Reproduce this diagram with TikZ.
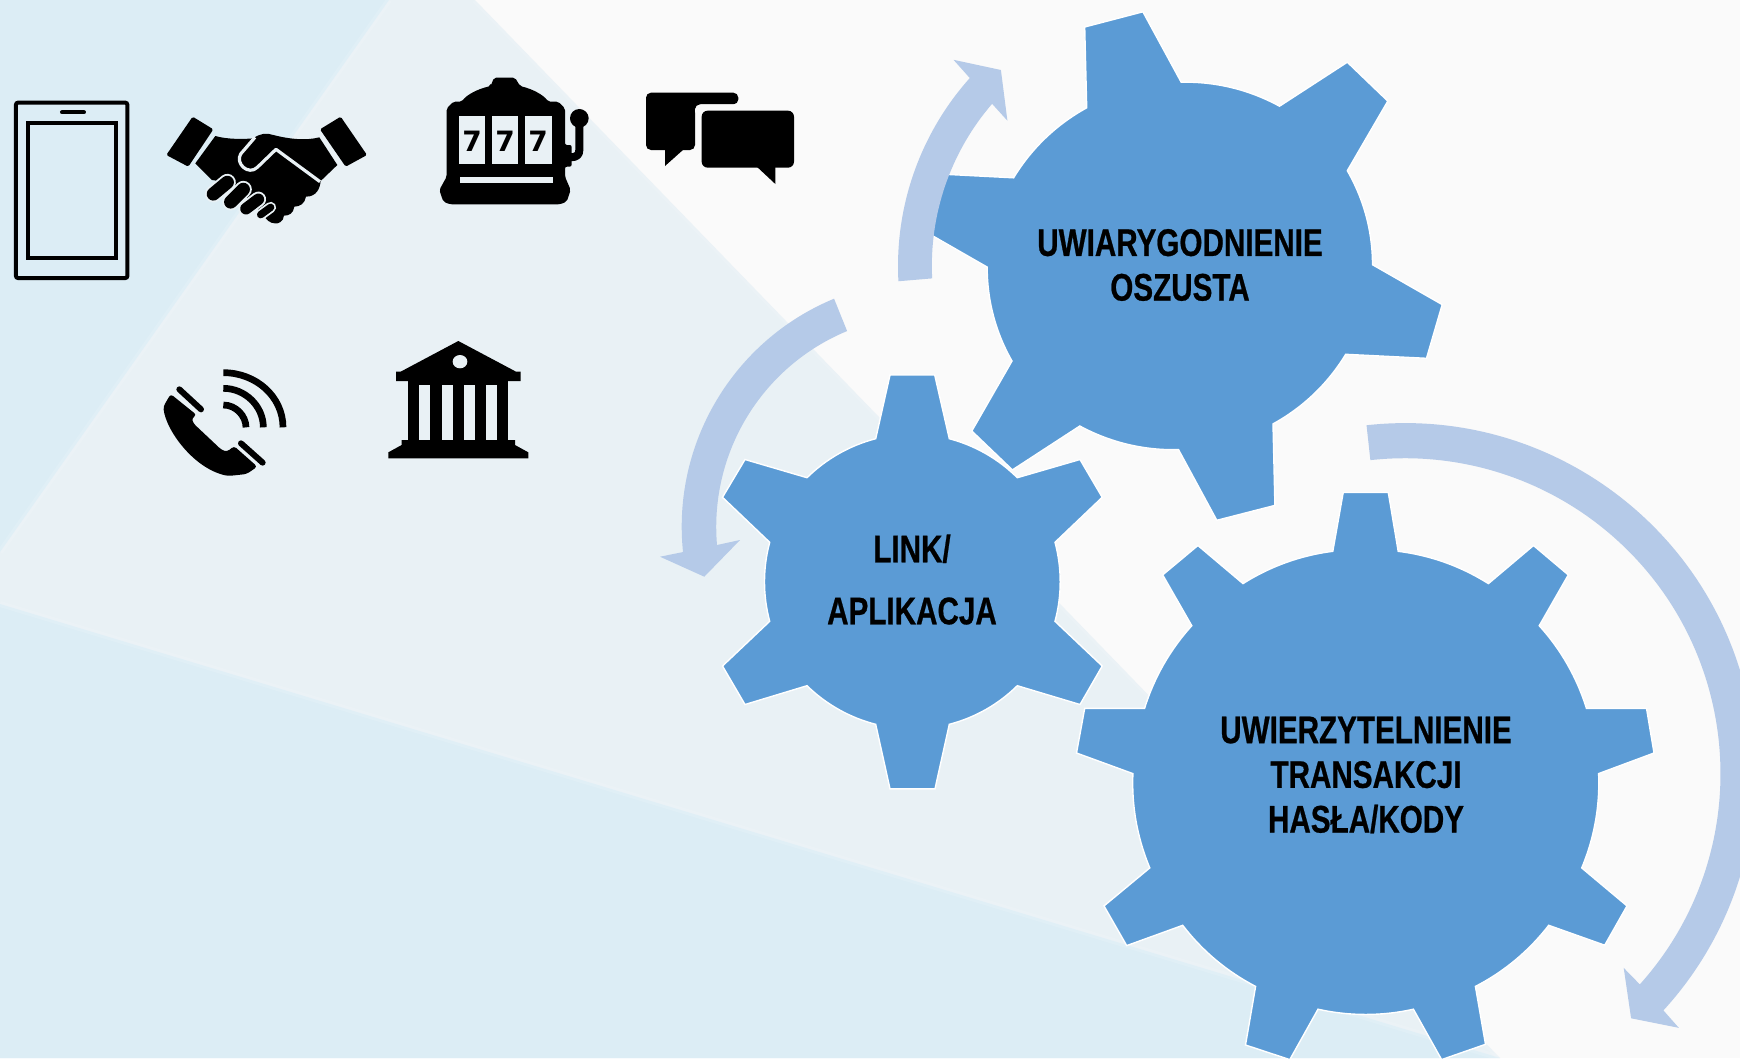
\documentclass[tikz,border=0pt]{standalone}
\usepackage{fontspec}
\setmainfont{Liberation Sans}
\newfontfamily\gearfont[FakeStretch=0.77,BoldFeatures={FakeBold=0.6}]{Liberation Sans}
\newfontfamily\digitfont{DejaVu Sans}
\definecolor{bgwhite}{HTML}{FAFAFA}
\definecolor{bgblue}{HTML}{DCEDF5}
\definecolor{bgmid}{HTML}{E9F1F5}
\definecolor{gearblue}{HTML}{5B9BD5}
\definecolor{arrowblue}{HTML}{B5CAE8}
\tikzset{
  gear/.style={fill=gearblue,draw=white,line width=1.4pt,line join=miter},
  rim/.style={bend left=#1,looseness=0.87},
  rim/.default=15,
  cyclearrow/.style={fill=arrowblue,draw=none},
  gearlabel/.style={font=\gearfont\bfseries\fontsize{38.5}{44.7}\selectfont,align=center,text=black,inner sep=0pt},
  icon/.style={fill=black,draw=none},
  sevenlabel/.style={font=\digitfont\bfseries\fontsize{28}{28}\selectfont,text=black,inner sep=0pt},
  zoomscope/.style={x=0.33333pt,y=-0.33333pt},
  softedge/.style={white,opacity=0.12,line width=6pt},
}
\begin{document}
\begin{tikzpicture}[x=1pt,y=1pt]
\path[use as bounding box] (0,0) rectangle (1740,-1058);
\begin{scope}
\clip (0,0) rectangle (1740,-1058);
% background
\fill[bgwhite] (0,0) rectangle (1740,-1058);
\fill[bgmid] (389,0) -- (475,0) -- (1500,-1058) -- (0,-1058) -- (0,0) -- cycle;
\fill[bgblue] (0,0) -- (389,0) -- (0,-552) -- cycle;
\fill[bgblue] (0,-604) -- (1500,-1058) -- (0,-1058) -- cycle;
\draw[softedge] (389,0) -- (0,-552);
\draw[softedge] (0,-604) -- (1500,-1058);
\draw[softedge] (475,0) -- (1500,-1058);

% gear 1
\draw[gear] (1084.7,-27) -- (1142.9,-11.8) -- (1181.2,-82.2) to[rim] (1279.5,-106.2)
  -- (1347.3,-62.2) -- (1387.8,-101.1) -- (1347.3,-170.7) to[rim] (1372.5,-264.7)
  -- (1442.2,-304.6) -- (1426.5,-358.3) -- (1345.7,-354.3) to[rim] (1273,-423.9)
  -- (1274.9,-505.4) -- (1216.8,-520.3) -- (1178.5,-449.6) to[rim] (1079.8,-426)
  -- (1012.4,-469.9) -- (971.8,-431) -- (1012,-361) to[rim] (987.2,-267.1)
  -- (918,-227.4) -- (933.5,-173.7) -- (1013.6,-177.8) to[rim] (1086.7,-107.8) -- cycle;
% gear 3
\draw[gear] (1343.2,-492.5) -- (1388.3,-492.5) -- (1398.2,-551.3) to[rim=12.5] (1488.4,-583.6)
  -- (1533.5,-545.5) -- (1568.3,-574.9) -- (1539.2,-625.7) to[rim=12.5] (1586.4,-708.3)
  -- (1646.5,-708.3) -- (1654,-753) -- (1598.6,-773.6) to[rim=12.5] (1581.7,-867.9)
  -- (1627,-905.9) -- (1604.7,-945.2) -- (1548.7,-925.3) to[rim=12.5] (1475.4,-986.4)
  -- (1485.5,-1044.3) -- (1441.6,-1059.6) -- (1413.4,-1009.2) to[rim=12.5] (1318,-1009.2)
  -- (1289.8,-1059.6) -- (1245.5,-1045) -- (1255.6,-986.4) to[rim=12.5] (1182.7,-925.3)
  -- (1126.7,-945.6) -- (1104,-905.9) -- (1149.8,-867.9) to[rim=12.5] (1132.9,-773.6)
  -- (1076.5,-753) -- (1084.7,-708.3) -- (1144.6,-708.3) to[rim=12.5] (1191.8,-625.7)
  -- (1162.7,-574.9) -- (1197.9,-545.5) -- (1243,-583.6) to[rim=12.5] (1332.8,-551.3) -- cycle;
% gear 2
\draw[gear] (890,-375) -- (934.7,-375) -- (949.3,-438.7) to[rim] (1017.3,-477.7)
  -- (1080,-459.5) -- (1102.2,-497.3) -- (1055,-542.3) to[rim] (1055,-621.3)
  -- (1102.2,-666) -- (1080,-704.5) -- (1017.3,-685.7) to[rim] (949.3,-724.3)
  -- (935,-788.8) -- (890,-788.8) -- (875.7,-724.3) to[rim] (807,-685.7)
  -- (745,-704.5) -- (722.5,-666) -- (769.7,-621.3) to[rim] (769.7,-542.3)
  -- (722.5,-497.3) -- (745,-459.5) -- (807,-477.7) to[rim] (875.7,-438.7) -- cycle;

% cycle arrows
\fill[cyclearrow] (1180,-266) ++(183.1:282) arc[start angle=183.1,end angle=138.2,radius=282]
  -- (953.5,-59.8) -- (1000.9,-70) -- (1007.4,-120.7) -- (992.1,-103.8)
  arc[start angle=139.2,end angle=182.9,radius=248] -- cycle;
\fill[cyclearrow] (928.5,-526.7) ++(112.5:246.8) arc[start angle=112.5,end angle=185.9,radius=246.8]
  -- (660,-556.7) -- (704.3,-576.7) -- (740,-540) -- (717,-545)
  arc[start angle=184.9,end angle=112.5,radius=212] -- cycle;
\fill[cyclearrow] (1405,-773.6) ++(96.3:350.5) arc[start angle=96.3,end angle=-42.5,radius=350.5]
  -- (1678.8,-1027.8) -- (1631.1,-1018.3) -- (1623.7,-967.9) -- (1639.8,-984.4)
  arc[start angle=-41.9,end angle=96.3,radius=315.5] -- cycle;

% labels
\node[gearlabel] (uwiarygodnienie) at (1180,-265) {UWIARYGODNIENIE\\OSZUSTA};
\node[gearlabel,font=\gearfont\bfseries\fontsize{38.5}{62}\selectfont] (link) at (912,-579.5) {LINK/\\APLIKACJA};
\node[gearlabel] (uwierzytelnienie) at (1366,-775) {UWIERZYTELNIENIE\\TRANSAKCJI\\HASŁA/KODY};

% tablet
\begin{scope}[zoomscope,shift={(0pt,-50pt)}]
  \draw[black,line width=4pt,rounded corners=2pt] (48,158) rectangle (382,684);
  \draw[black,line width=4pt] (84,218) rectangle (348,624);
  \draw[black,line width=4pt,line cap=round] (186,187) -- (252,187);
\end{scope}

% handshake
\begin{scope}[zoomscope,shift={(0pt,-50pt)}]
  \fill[icon,rounded corners=1.5pt] (578,200) -- (640,238) -- (565,350) -- (499,315) -- cycle;
  \fill[icon,rounded corners=1.5pt] (1022,200) -- (960,238) -- (1037,350) -- (1101,315) -- cycle;
  \fill[icon] (646,258) .. controls (680,268) and (730,268) .. (760,265)
     .. controls (780,250) and (800,248) .. (820,255)
     .. controls (870,268) and (920,272) .. (958,262)
     -- (1012,345) -- (962,393)
     .. controls (960,415) and (950,440) .. (918,440)
     .. controls (915,460) and (900,470) .. (883,470)
     .. controls (880,490) and (868,497) .. (852,497)
     .. controls (850,515) and (835,522) .. (825,520)
     .. controls (810,520) and (800,510) .. (790,495)
     -- (700,400) -- (636,390) -- (586,340) -- cycle;
  \foreach \ax/\ay/\bx/\by/\w in {682/397/640/432/17,730/418/692/456/17,775/448/738/476/15.5,812/472/782/494/11}{
    \draw[bgmid,line width=\w pt,line cap=round] (\ax,\ay) -- (\bx,\by);
  }
  \foreach \ax/\ay/\bx/\by/\w in {682/397/640/432/13.2,730/418/692/456/13.2,775/448/738/476/11.6,812/472/782/494/7.4}{
    \draw[black,line width=\w pt,line cap=round] (\ax,\ay) -- (\bx,\by);
  }
  \draw[bgmid,line width=3.2pt,line join=round] (765,262) -- (722,312)
     .. controls (705,340) and (745,378) .. (772,352) -- (828,298) -- (960,395);
\end{scope}

% slot machine
\begin{scope}[zoomscope,shift={(420pt,-50pt)}]
  \fill[icon,rounded corners=2pt] (212,108) -- (222,83) -- (285,83) -- (300,108)
    .. controls (340,118) and (370,135) .. (385,155) -- (415,155) -- (435,175)
    -- (435,285) -- (455,285) -- (455,350) -- (435,350) -- (435,380) -- (452,420)
    -- (440,455) -- (420,463) -- (90,463) -- (70,455) -- (58,420) -- (80,380)
    -- (80,175) -- (100,155) -- (125,155) .. controls (140,135) and (170,118) .. (212,108) -- cycle;
  \fill[bgmid] (118,198) rectangle (196,342);
  \fill[bgmid] (217,198) rectangle (295,342);
  \fill[bgmid] (316,198) rectangle (395,342);
  \fill[bgmid] (120,380) rectangle (398,400);
  \node[sevenlabel] (sevena) at (156,273) {7};
  \node[sevenlabel] (sevenb) at (255,273) {7};
  \node[sevenlabel] (sevenc) at (354,273) {7};
  \fill[icon] (478,205) circle[radius=28];
  \draw[black,line width=8pt,line join=round] (478,205) -- (478,300) .. controls (478,315) and (470,322) .. (450,322);
\end{scope}

% chat bubbles
\begin{scope}[zoomscope,shift={(420pt,-50pt)}]
  \fill[icon,rounded corners=5pt] (678,300) -- (678,128) -- (955,128) -- (955,163) -- (825,163)
    -- (825,300) -- cycle;
  \fill[icon] (735,290) -- (800,290) -- (735,348) -- cycle;
  \fill[bgwhite,rounded corners=7pt] (825,200) -- (825,163) -- (960,163) -- (960,172) -- (835,172) -- (825,200) -- cycle;
  \fill[icon,rounded corners=6pt] (845,182) rectangle (1122,353);
  \fill[icon] (1005,345) -- (1066,345) -- (1066,402) -- cycle;
\end{scope}

% phone
\begin{scope}[zoomscope,shift={(140pt,-320pt)}]
  \fill[icon,rounded corners=3pt] (92,222) -- (70,260) .. controls (78,330) and (160,445) .. (265,468)
    -- (320,462) -- (352,440) -- (282,378) -- (262,395) -- (245,390) -- (160,310) -- (155,295) -- (170,285) -- cycle;
  \draw[black,line width=6pt,line cap=round] (118,208) -- (183,268);
  \draw[black,line width=6pt,line cap=round] (303,370) -- (368,428);
  \draw[black,line width=6.7pt] (250,158) .. controls (348,158) and (429,230) .. (429,322);
  \draw[black,line width=6.7pt] (250,205) .. controls (315,205) and (370,258) .. (370,322);
  \draw[black,line width=6.7pt] (250,255) .. controls (288,255) and (318,288) .. (318,322);
\end{scope}

% bank
\begin{scope}[zoomscope,shift={(140pt,-320pt)}]
  \fill[icon] (955,63) -- (1128,155) -- (1142,155) -- (1142,183) -- (768,183) -- (768,155) -- (782,155) -- cycle;
  \fill[bgmid] (960,125) ellipse[x radius=22,y radius=20];
  \fill[icon] (805,180) rectangle (1105,365);
  \foreach \sx in {838,905,971,1037}{
    \fill[bgmid] (\sx,195) rectangle ({\sx+33},360);
  }
  \fill[icon] (785,360) -- (1125,360) -- (1125,375) -- (1165,397) -- (1165,415) -- (745,415) -- (745,397) -- (785,375) -- cycle;
\end{scope}
\end{scope}
\end{tikzpicture}
\end{document}
